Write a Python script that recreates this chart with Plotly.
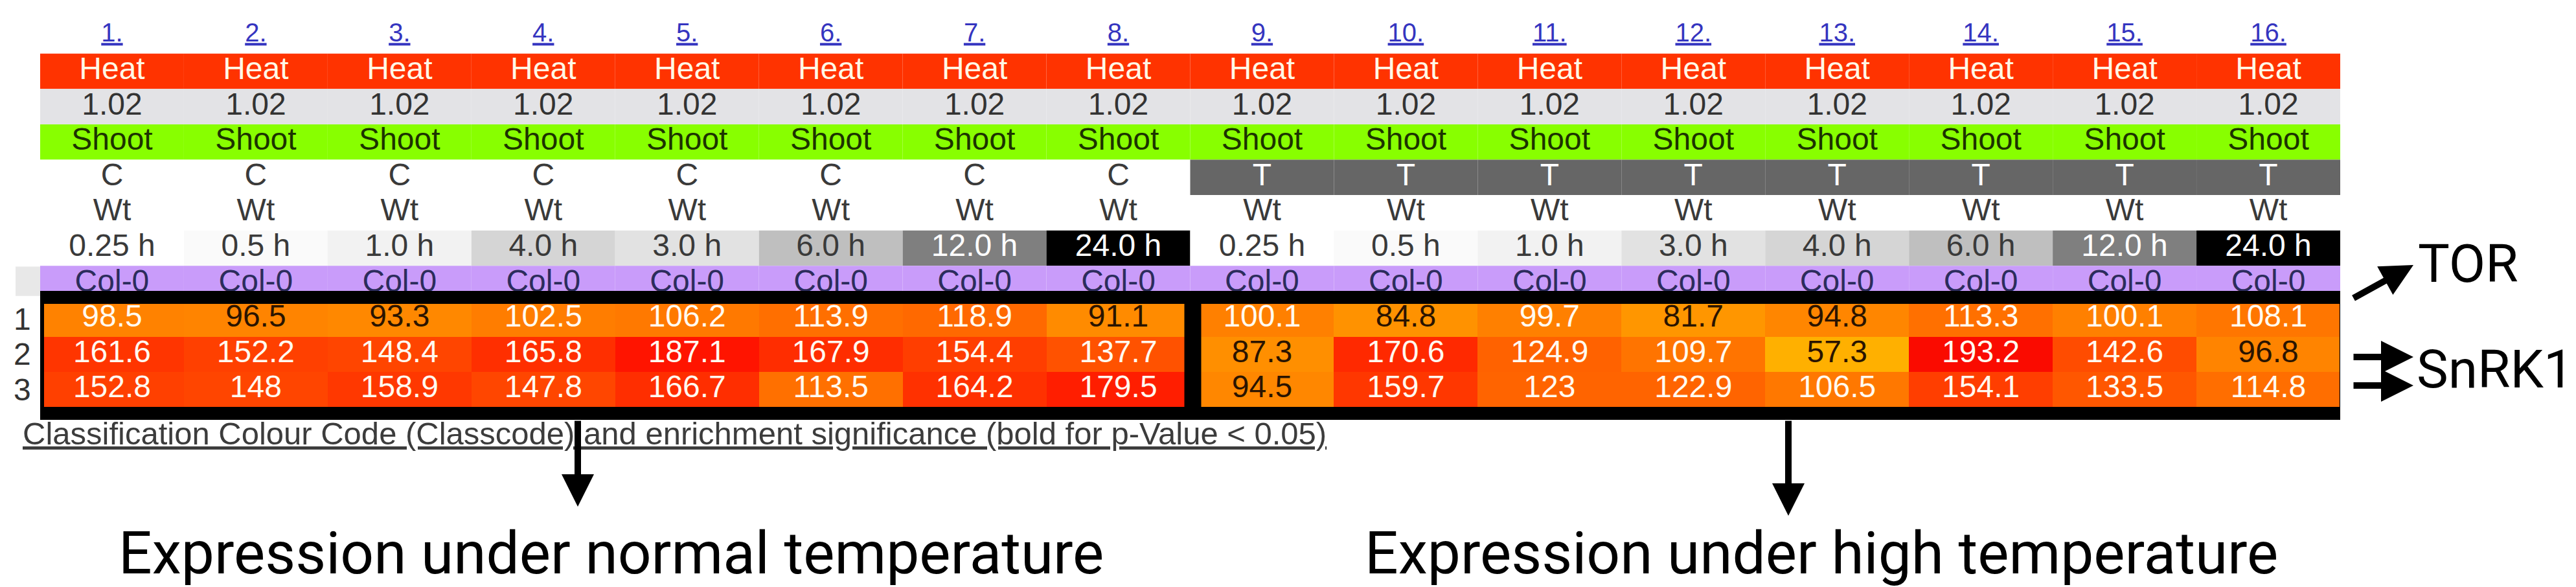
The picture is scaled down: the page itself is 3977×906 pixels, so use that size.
import plotly.graph_objects as go

W, H = 3977, 906

# ---------------- data ----------------
col_numbers = ["1.", "2.", "3.", "4.", "5.", "6.", "7.", "8.",
               "9.", "10.", "11.", "12.", "13.", "14.", "15.", "16."]
stress = ["Heat"] * 16
version = ["1.02"] * 16
tissue = ["Shoot"] * 16
treatment = ["C", "C", "C", "C", "C", "C", "C", "C",
             "T", "T", "T", "T", "T", "T", "T", "T"]
genotype = ["Wt"] * 16
times = ["0.25 h", "0.5 h", "1.0 h", "4.0 h", "3.0 h", "6.0 h", "12.0 h", "24.0 h",
         "0.25 h", "0.5 h", "1.0 h", "3.0 h", "4.0 h", "6.0 h", "12.0 h", "24.0 h"]
ecotype = ["Col-0"] * 16
row_labels = ["1", "2", "3"]

tor = [98.5, 96.5, 93.3, 102.5, 106.2, 113.9, 118.9, 91.1,
       100.1, 84.8, 99.7, 81.7, 94.8, 113.3, 100.1, 108.1]
snrk1_a = [161.6, 152.2, 148.4, 165.8, 187.1, 167.9, 154.4, 137.7,
           87.3, 170.6, 124.9, 109.7, 57.3, 193.2, 142.6, 96.8]
snrk1_b = [152.8, 148, 158.9, 147.8, 166.7, 113.5, 164.2, 179.5,
           94.5, 159.7, 123, 122.9, 106.5, 154.1, 133.5, 114.8]

# ---------------- styles ----------------
treat_fill = {"C": "#ffffff", "T": "#666666"}
treat_font = {"C": "#3a3a3a", "T": "#ffffff"}
time_fill = {"0.25 h": "#ffffff", "0.5 h": "#fafafa", "1.0 h": "#f2f2f2",
             "3.0 h": "#e2e2e2", "4.0 h": "#d5d5d5", "6.0 h": "#bfbfbf",
             "12.0 h": "#7f7f7f", "24.0 h": "#000000"}
time_font = {"0.25 h": "#3a3a3a", "0.5 h": "#3a3a3a", "1.0 h": "#3a3a3a",
             "3.0 h": "#3a3a3a", "4.0 h": "#3a3a3a", "6.0 h": "#3a3a3a",
             "12.0 h": "#ffffff", "24.0 h": "#ffffff"}

heat_vals = [50, 57, 85, 100, 115, 135, 155, 170, 190, 200]
heat_cols = ["#ffbb00", "#ffb000", "#ff9200", "#ff8000", "#ff6e00",
             "#ff5500", "#ff3d00", "#ff2a00", "#ff1000", "#ee0000"]
ZMIN, ZMAX = 50, 200
colorscale = [[(v - ZMIN) / (ZMAX - ZMIN), c] for v, c in zip(heat_vals, heat_cols)]

TAB_FONT = "Liberation Sans, Arial, sans-serif"
BIG_FONT = "Roboto, sans-serif"
FS = 48

# pixel geometry helpers
X_LEFT, X_RIGHT = 54, 3605
ROW0_PX, ROW_H = 102, 54.6
def px(x):
    return x / W
def py(y):
    return 1 - y / H

n = len(col_numbers)
xs = list(range(n))

fig = go.Figure()

# header rows as cell rectangles
header_rows = [
    (0, ["#ff3300"] * n),
    (1, ["#e3e3e6"] * n),
    (2, ["#88ff00"] * n),
    (3, [treat_fill[t] for t in treatment]),
    (4, ["#ffffff"] * n),
    (5, [time_fill[t] for t in times]),
    (6, ["#c99cfa"] * n),
]
shapes = []
for r, fills in header_rows:
    for i, f in enumerate(fills):
        shapes.append(dict(type="rect", xref="x", yref="y", layer="below",
                           x0=i - 0.5, x1=i + 0.5, y0=r - 0.5, y1=r + 0.5,
                           fillcolor=f, line=dict(width=0)))
# little grey box left of Col-0 row
shapes.append(dict(type="rect", xref="paper", yref="y", layer="below",
                   x0=px(16), x1=px(X_LEFT), y0=5.52, y1=6.35,
                   fillcolor="#e8e8e8", line=dict(width=0)))

# heatmap
fig.add_trace(go.Heatmap(z=[tor, snrk1_a, snrk1_b], x=xs, y=[7, 8, 9],
                         colorscale=colorscale, zmin=ZMIN, zmax=ZMAX,
                         showscale=False, hoverinfo="skip"))

def text_trace(xv, yv, texts, colors, size=FS, family=TAB_FONT):
    fig.add_trace(go.Scatter(x=xv, y=yv, mode="text", text=texts,
                             textposition="middle center",
                             textfont=dict(size=size, color=colors, family=family),
                             hoverinfo="skip", cliponaxis=False))

text_trace(xs, [-1.02] * n, ["<u>%s</u>" % c for c in col_numbers], "#3535c0", size=40)
text_trace(xs, [0] * n, stress, "#fff8e6")
text_trace(xs, [1] * n, version, "#333333")
text_trace(xs, [2] * n, tissue, "#1c3300")
text_trace(xs, [3] * n, treatment, [treat_font[t] for t in treatment])
text_trace(xs, [4] * n, genotype, "#3a3a3a")
text_trace(xs, [5] * n, times, [time_font[t] for t in times])
text_trace(xs, [6] * n, ecotype, "#2c2c5c")

for r, vals in zip([7, 8, 9], [tor, snrk1_a, snrk1_b]):
    text_trace(xs, [r] * n, ["%g" % v for v in vals],
               ["#2a1400" if v < 97.5 else "#fffaf0" for v in vals])

# frame around heatmap
PAD_L, PAD_R, PAD_T, PAD_B = 0.018, 0.04, 0.11, 0.17
shapes.append(dict(type="rect", xref="x", yref="y", layer="above",
                   x0=-0.5 - PAD_L, x1=n - 0.5 + PAD_R, y0=6.5 - PAD_T, y1=9.5 + PAD_B,
                   line=dict(color="black", width=20), fillcolor="rgba(0,0,0,0)"))
shapes.append(dict(type="line", xref="x", yref="y", layer="above",
                   x0=7.518, x1=7.518, y0=6.5 - PAD_T, y1=9.5 + PAD_B,
                   line=dict(color="black", width=26)))

annotations = []
# row labels
for lab, r in zip(row_labels, [7, 8, 9]):
    annotations.append(dict(x=px(26), y=r, xref="paper", yref="y", text=lab,
                            xanchor="center", yanchor="middle",
                            showarrow=False, font=dict(size=FS, color="#333333", family=TAB_FONT)))
# classification link
annotations.append(dict(x=px(25), y=py(661), xref="paper", yref="paper",
                        xanchor="left", yanchor="middle", showarrow=False,
                        text="<u>Classification Colour Code (Classcode) and enrichment significance (bold for p-Value < 0.05)</u>",
                        font=dict(size=49, color="#3c3c3c", family=TAB_FONT)))

# arrows (tail -> tip, in pixels)
arrows = [((884, 640), (884, 774)),
          ((2753, 640), (2753, 788)),
          ((3624, 453), (3718, 401)),
          ((3624, 543), (3718, 543)),
          ((3624, 587), (3718, 587))]
for (tx, ty), (hx, hy) in arrows:
    annotations.append(dict(x=px(hx), y=py(hy), xref="paper", yref="paper",
                            ax=tx - hx, ay=ty - hy, text="", showarrow=True,
                            arrowhead=2, arrowsize=1.0, arrowwidth=10,
                            arrowcolor="black", standoff=0, startstandoff=0))

big = [("TOR", 3802, 399, 82),
       ("SnRK1", 3844, 562, 82),
       ("Expression under normal temperature", 935, 846, 91),
       ("Expression under high temperature", 2804, 846, 91)]
for txt, cx, cy, sz in big:
    annotations.append(dict(x=px(cx), y=py(cy), xref="paper", yref="paper", text=txt,
                            xanchor="center", yanchor="middle", showarrow=False,
                            font=dict(size=sz, color="black", family=BIG_FONT)))

fig.update_layout(
    width=W, height=H, margin=dict(l=0, r=0, t=0, b=0),
    paper_bgcolor="white", plot_bgcolor="white", showlegend=False,
    xaxis=dict(domain=[px(X_LEFT), px(X_RIGHT)], range=[-0.5, n - 0.5],
               visible=False, fixedrange=True),
    yaxis=dict(domain=[0, 1], range=[(H - ROW0_PX) / ROW_H, -ROW0_PX / ROW_H],
               visible=False, fixedrange=True),
    shapes=shapes, annotations=annotations,
)

fig.write_html("out.html")
